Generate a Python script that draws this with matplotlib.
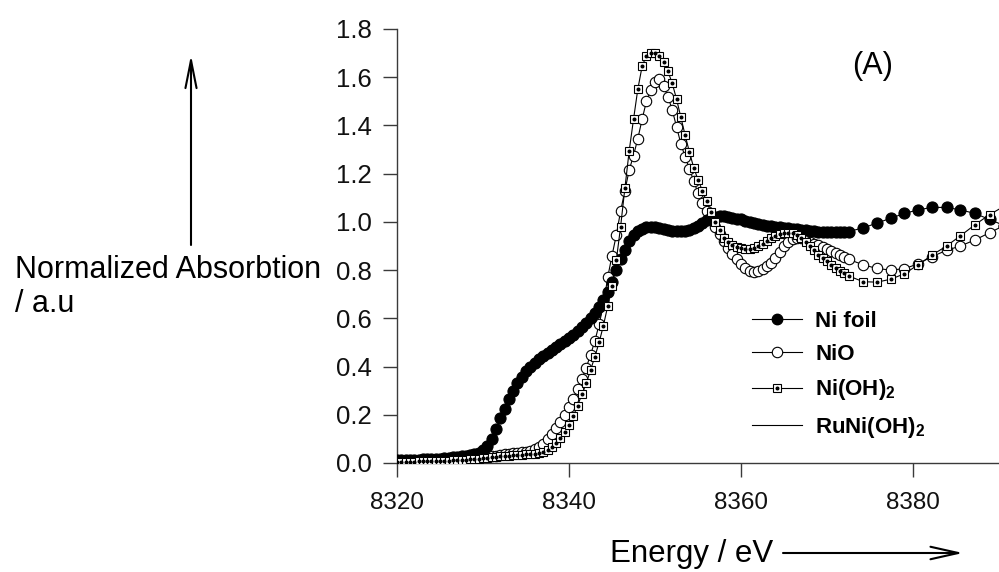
import matplotlib
matplotlib.use("Agg")
import matplotlib.pyplot as plt
from matplotlib.lines import Line2D
from matplotlib.legend_handler import HandlerTuple

plt.rcParams["font.family"] = ["Liberation Sans", "DejaVu Sans"]
plt.rcParams["mathtext.fontset"] = "custom"
plt.rcParams["mathtext.rm"] = "Liberation Sans"
plt.rcParams["mathtext.bf"] = "Liberation Sans:bold"

# -------------------------------------------------------
# Data
# -------------------------------------------------------

# fine energy grid of the edge region (eV)
energy_edge = [
    8320.0, 8320.5, 8321.0, 8321.5, 8322.0, 8322.5, 8323.0, 8323.5, 8324.0, 8324.5,
    8325.0, 8325.5, 8326.0, 8326.5, 8327.0, 8327.5, 8328.0, 8328.5, 8329.0, 8329.5,
    8330.0, 8330.5, 8331.0, 8331.5, 8332.0, 8332.5, 8333.0, 8333.5, 8334.0, 8334.5,
    8335.0, 8335.5, 8336.0, 8336.5, 8337.0, 8337.5, 8338.0, 8338.5, 8339.0, 8339.5,
    8340.0, 8340.5, 8341.0, 8341.5, 8342.0, 8342.5, 8343.0, 8343.5, 8344.0, 8344.5,
    8345.0, 8345.5, 8346.0, 8346.5, 8347.0, 8347.5, 8348.0, 8348.5, 8349.0, 8349.5,
    8350.0, 8350.5, 8351.0, 8351.5, 8352.0, 8352.5, 8353.0, 8353.5, 8354.0, 8354.5,
    8355.0, 8355.5, 8356.0, 8356.5, 8357.0, 8357.5, 8358.0, 8358.5, 8359.0, 8359.5,
    8360.0, 8360.5, 8361.0, 8361.5, 8362.0, 8362.5, 8363.0, 8363.5, 8364.0, 8364.5,
    8365.0, 8365.5, 8366.0, 8366.5, 8367.0, 8367.5, 8368.0, 8368.5, 8369.0, 8369.5,
    8370.0, 8370.5, 8371.0, 8371.5, 8372.0, 8372.5,
]

# coarser grid after the edge
energy_post = [8374.2, 8375.8, 8377.4, 8379.0, 8380.6, 8382.2,
               8383.9, 8385.5, 8387.2, 8388.9, 8390.6]

ni_foil_edge = [
    0.012, 0.012, 0.013, 0.013, 0.014, 0.014, 0.015, 0.015, 0.016, 0.017,
    0.018, 0.019, 0.021, 0.023, 0.025, 0.027, 0.030, 0.033, 0.037, 0.043,
    0.052, 0.070, 0.100, 0.140, 0.185, 0.225, 0.265, 0.300, 0.330, 0.355,
    0.380, 0.400, 0.415, 0.430, 0.443, 0.456, 0.468, 0.480, 0.492, 0.505,
    0.518, 0.532, 0.547, 0.563, 0.580, 0.600, 0.622, 0.648, 0.675, 0.708,
    0.750, 0.800, 0.845, 0.885, 0.920, 0.945, 0.962, 0.972, 0.977, 0.979,
    0.978, 0.975, 0.971, 0.967, 0.963, 0.961, 0.961, 0.963, 0.967, 0.975,
    0.985, 0.997, 1.008, 1.016, 1.021, 1.023, 1.023, 1.021, 1.018, 1.014,
    1.010, 1.005, 1.000, 0.996, 0.992, 0.988, 0.985, 0.982, 0.980, 0.978,
    0.976, 0.974, 0.972, 0.970, 0.968, 0.966, 0.964, 0.962, 0.960, 0.959,
    0.958, 0.957, 0.957, 0.957, 0.958, 0.960,
]
ni_foil_post = [0.975, 0.995, 1.015, 1.035, 1.050, 1.060,
                1.060, 1.050, 1.035, 1.010, 0.985]

nio_edge = [
    0.008, 0.008, 0.008, 0.009, 0.009, 0.009, 0.010, 0.010, 0.010, 0.011,
    0.011, 0.012, 0.012, 0.013, 0.014, 0.015, 0.016, 0.017, 0.019, 0.021,
    0.023, 0.025, 0.027, 0.030, 0.033, 0.036, 0.039, 0.041, 0.043, 0.045,
    0.047, 0.050, 0.056, 0.066, 0.080, 0.098, 0.120, 0.145, 0.172, 0.200,
    0.232, 0.266, 0.305, 0.348, 0.395, 0.448, 0.505, 0.575, 0.655, 0.770,
    0.860, 0.945, 1.045, 1.130, 1.215, 1.275, 1.345, 1.425, 1.500, 1.545,
    1.580, 1.592, 1.565, 1.520, 1.465, 1.395, 1.325, 1.270, 1.220, 1.170,
    1.120, 1.080, 1.045, 1.010, 0.980, 0.950, 0.920, 0.892, 0.866, 0.845,
    0.826, 0.808, 0.797, 0.793, 0.795, 0.803, 0.815, 0.830, 0.850, 0.875,
    0.898, 0.918, 0.930, 0.935, 0.933, 0.926, 0.917, 0.910, 0.903, 0.895,
    0.886, 0.878, 0.870, 0.862, 0.853, 0.845,
]
nio_post = [0.822, 0.807, 0.800, 0.806, 0.826, 0.856,
            0.882, 0.900, 0.925, 0.955, 0.985]

nioh2_edge = [
    0.005, 0.005, 0.006, 0.006, 0.006, 0.007, 0.007, 0.007, 0.008, 0.008,
    0.009, 0.009, 0.010, 0.011, 0.012, 0.013, 0.014, 0.015, 0.016, 0.018,
    0.019, 0.021, 0.023, 0.025, 0.027, 0.029, 0.031, 0.033, 0.034, 0.035,
    0.036, 0.037, 0.039, 0.042, 0.047, 0.055, 0.066, 0.082, 0.102, 0.128,
    0.158, 0.195, 0.238, 0.285, 0.330, 0.385, 0.440, 0.500, 0.570, 0.650,
    0.735, 0.840, 0.980, 1.140, 1.295, 1.425, 1.550, 1.645, 1.690, 1.700,
    1.700, 1.690, 1.665, 1.625, 1.575, 1.510, 1.435, 1.360, 1.290, 1.225,
    1.175, 1.130, 1.085, 1.040, 1.000, 0.965, 0.935, 0.915, 0.903, 0.896,
    0.890, 0.888, 0.889, 0.893, 0.900, 0.910, 0.920, 0.932, 0.942, 0.950,
    0.954, 0.955, 0.952, 0.945, 0.932, 0.916, 0.900, 0.882, 0.864, 0.850,
    0.836, 0.823, 0.810, 0.798, 0.787, 0.776,
]
nioh2_post = [0.752, 0.750, 0.762, 0.785, 0.822, 0.862,
              0.900, 0.942, 0.988, 1.030, 1.065]

x_ticks = [8320, 8340, 8360, 8380]
y_ticks = [0.0, 0.2, 0.4, 0.6, 0.8, 1.0, 1.2, 1.4, 1.6, 1.8]

series_labels = ["Ni foil", "NiO", r"Ni(OH)$_\mathbf{2}$", r"RuNi(OH)$_\mathbf{2}$"]

# -------------------------------------------------------
# Figure
# -------------------------------------------------------

W, H = 999, 572
fig = plt.figure(figsize=(W / 100, H / 100), dpi=100)
ax = fig.add_axes([397 / W, 1 - 463 / H, (999 - 397) / W, (463 - 29) / H])

energy = energy_edge + energy_post
lw = 0.8

# NiO : open circles
ax.plot(energy, nio_edge + nio_post, color="k", lw=lw, marker="o", ms=7.5,
        mfc="white", mec="k", mew=0.8, zorder=2)
# Ni foil : filled circles
ax.plot(energy, ni_foil_edge + ni_foil_post, color="k", lw=lw, marker="o", ms=8.0,
        mfc="k", mec="k", mew=0.8, zorder=3)
# Ni(OH)2 : squares with a dot inside
ax.plot(energy, nioh2_edge + nioh2_post, color="k", lw=lw, marker="s", ms=5.8,
        mfc="white", mec="k", mew=0.8, zorder=4)
ax.plot(energy, nioh2_edge + nioh2_post, ls="none", marker="o", ms=1.9,
        mfc="k", mec="k", zorder=5)

ax.set_xlim(8320, 8390)
ax.set_ylim(0, 1.8)
ax.set_xticks(x_ticks)
ax.set_yticks(y_ticks)
ax.set_yticklabels([f"{v:.1f}" for v in y_ticks])

for s in ["top", "right"]:
    ax.spines[s].set_visible(False)
for s in ["left", "bottom"]:
    ax.spines[s].set_color("#3a3a3a")
    ax.spines[s].set_linewidth(1.0)

ax.tick_params(axis="both", direction="out", length=10, width=1.0,
               color="#3a3a3a", labelcolor="#111111")
ax.tick_params(axis="x", labelsize=17.5, pad=11)
ax.tick_params(axis="y", labelsize=18.5, pad=8)

# -------------------------------------------------------
# Legend
# -------------------------------------------------------

h_foil = Line2D([], [], color="k", lw=lw, marker="o", ms=7.5, mfc="k", mec="k")
h_nio = Line2D([], [], color="k", lw=lw, marker="o", ms=7.5, mfc="white", mec="k", mew=0.8)
h_sq = Line2D([], [], color="k", lw=lw, marker="s", ms=5.8, mfc="white", mec="k", mew=0.8)
h_dot = Line2D([], [], ls="none", marker="o", ms=1.9, mfc="k", mec="k")
h_ru = Line2D([], [], color="k", lw=lw)

ax.legend([h_foil, h_nio, (h_sq, h_dot), h_ru], series_labels,
          handler_map={tuple: HandlerTuple(ndivide=1)},
          loc="upper left", bbox_to_anchor=(752 / W, 1 - 311 / H),
          bbox_transform=fig.transFigure, frameon=False,
          prop={"size": 16, "weight": "bold"},
          handlelength=2.25, handletextpad=0.6, labelspacing=0.55,
          borderpad=0, borderaxespad=0)

# -------------------------------------------------------
# Labels and arrows
# -------------------------------------------------------

fig.text(873 / W, 1 - 66 / H, "(A)", fontsize=22, ha="center", va="center")

fig.text(15 / W, 1 - 278 / H, "Normalized Absorbtion", fontsize=22, va="baseline")
fig.text(15 / W, 1 - 312 / H, "/ a.u", fontsize=22, va="baseline")
ax.annotate("", xy=(191, H - 55), xytext=(191, H - 245),
            xycoords="figure pixels", textcoords="figure pixels",
            arrowprops=dict(arrowstyle="->,head_length=2.0,head_width=0.4",
                            lw=1.5, color="k", shrinkA=0, shrinkB=0))

fig.text(610 / W, 1 - 562 / H, "Energy / eV", fontsize=22.5, va="baseline")
ax.annotate("", xy=(963, H - 553), xytext=(783, H - 553),
            xycoords="figure pixels", textcoords="figure pixels",
            arrowprops=dict(arrowstyle="->,head_length=2.0,head_width=0.45",
                            lw=1.5, color="k", shrinkA=0, shrinkB=0))

fig.savefig("out.png", dpi=100)
